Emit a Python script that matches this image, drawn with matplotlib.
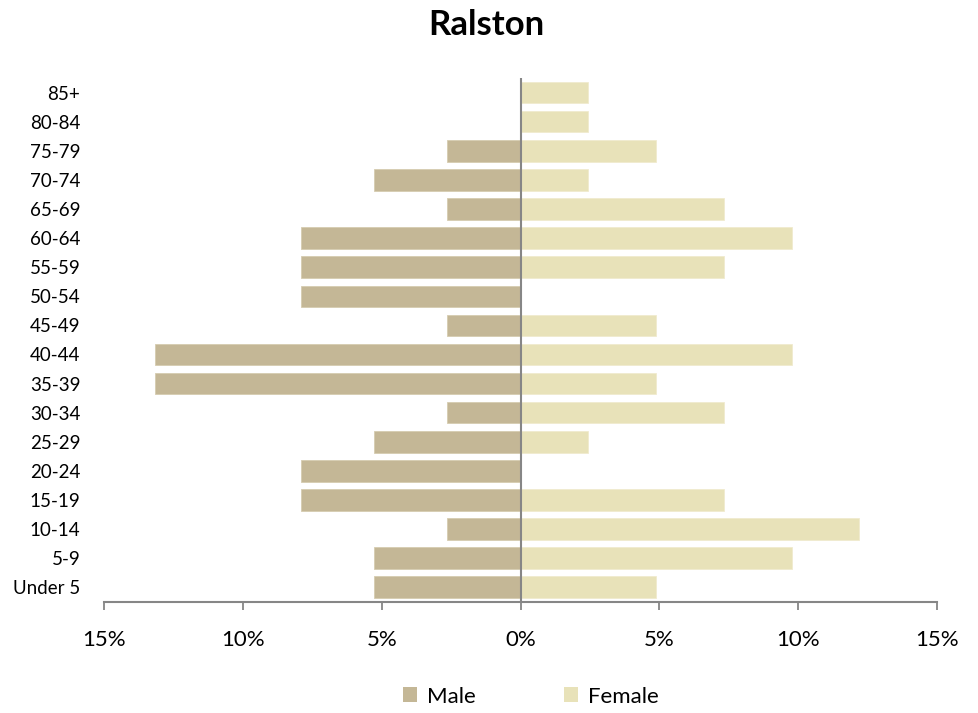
import matplotlib
matplotlib.use("Agg")
import matplotlib.pyplot as plt
from matplotlib.ticker import FuncFormatter
from matplotlib.patches import Patch

ages = ["Under 5", "5-9", "10-14", "15-19", "20-24", "25-29", "30-34", "35-39",
        "40-44", "45-49", "50-54", "55-59", "60-64", "65-69", "70-74", "75-79",
        "80-84", "85+"]
male = [5.26, 5.26, 2.63, 7.89, 7.89, 5.26, 2.63, 13.16, 13.16, 2.63,
        7.89, 7.89, 7.89, 2.63, 5.26, 2.63, 0, 0]
female = [4.88, 9.76, 12.20, 7.32, 0, 2.44, 7.32, 4.88, 9.76, 4.88,
          0, 7.32, 9.76, 7.32, 2.44, 4.88, 2.44, 2.44]
xticks = [-15, -10, -5, 0, 5, 10, 15]

male_c = "#C4B796"
female_c = "#E8E2B9"
axis_c = "#868686"

plt.rcParams['font.family'] = ['Lato', 'DejaVu Sans']

fig = plt.figure(figsize=(9.79, 7.13), dpi=100)
ax = fig.add_axes([0.1062, 0.156, 0.851, 0.7345])

y = list(range(len(ages)))
ax.barh(y, [-v for v in male], height=0.74, color=male_c, edgecolor="#D6CCB0", linewidth=0.6)
ax.barh(y, female, height=0.74, color=female_c, edgecolor="#F0EBCF", linewidth=0.6)

ax.set_xlim(-15, 15)
ax.set_ylim(-0.5, len(ages) - 0.5)
ax.set_xticks(xticks)
ax.xaxis.set_major_formatter(FuncFormatter(lambda v, p: f"{abs(v):.0f}%"))
ax.set_yticks(y)
ax.set_yticklabels(ages)
ax.tick_params(axis='y', length=0, pad=17, labelsize=13.5, colors="#000000")
ax.tick_params(axis='x', direction='out', length=6, width=1.3, color=axis_c,
               pad=14, labelsize=16)
for s in ["left", "right", "top"]:
    ax.spines[s].set_visible(False)
ax.spines["bottom"].set_color(axis_c)
ax.spines["bottom"].set_linewidth(1.5)
ax.axvline(0, color=axis_c, linewidth=1.5, zorder=3)

fig.text(0.497, 0.965, "Ralston", ha="center", va="center", fontsize=25, fontweight="bold")

handles = [Patch(facecolor=male_c, label="Male"), Patch(facecolor=female_c, label="Female")]
fig.legend(handles=handles, loc="center", bbox_to_anchor=(0.5425, 0.023), ncol=2,
           frameon=False, fontsize=16, handlelength=0.65, handleheight=0.65,
           handletextpad=0.45, columnspacing=3.95)

fig.savefig("out.png", dpi=100)
